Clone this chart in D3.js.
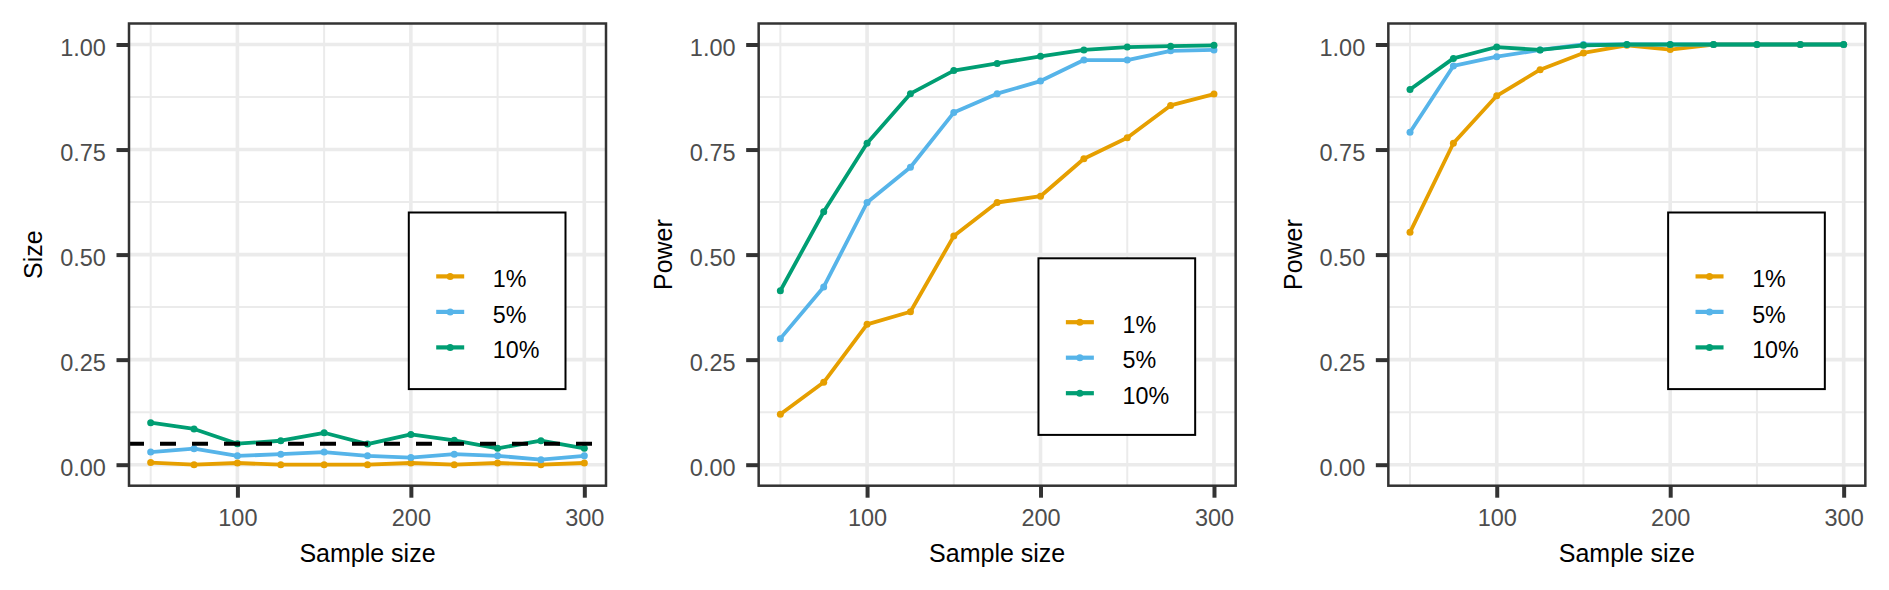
<!DOCTYPE html>
<html>
<head>
<meta charset="utf-8">
<script src="https://cdn.jsdelivr.net/npm/d3@7"></script>
<style>
  html, body { margin: 0; padding: 0; background: #ffffff; }
  svg { display: block; }
  text { font-family: "Liberation Sans", Arial, Helvetica, sans-serif; }
</style>
</head>
<body>
<svg id="chart" width="1889" height="590"></svg>
<script>
// ---------------- data ----------------
const sampleSizes = [50, 75, 100, 125, 150, 175, 200, 225, 250, 275, 300];
const levels = ["1%", "5%", "10%"];
const levelColors = ["#E69F00", "#56B4E9", "#009E73"];
const xTicks = [100, 200, 300];
const xMinorTicks = [50, 150, 250];
const yTicks = [0, 0.25, 0.5, 0.75, 1];
const yMinorTicks = [0.125, 0.375, 0.625, 0.875];
const nominalSize = 0.05;
const xTitle = "Sample size";
const yTitles = ["Size", "Power", "Power"];

// Panel 1: empirical size
const size1 = [0.005, 0.000, 0.004, 0.000, 0.000, 0.000, 0.004, 0.000, 0.004, 0.000, 0.004];
const size5 = [0.030, 0.038, 0.021, 0.025, 0.030, 0.021, 0.017, 0.025, 0.021, 0.012, 0.021];
const size10 = [0.100, 0.085, 0.050, 0.057, 0.076, 0.049, 0.072, 0.058, 0.039, 0.057, 0.039];

// Panel 2: power
const powerA1 = [0.120, 0.196, 0.334, 0.364, 0.544, 0.624, 0.639, 0.728, 0.778, 0.855, 0.882];
const powerA5 = [0.300, 0.423, 0.624, 0.708, 0.838, 0.883, 0.913, 0.963, 0.963, 0.985, 0.987];
const powerA10 = [0.414, 0.602, 0.765, 0.883, 0.938, 0.955, 0.972, 0.987, 0.994, 0.996, 0.998];

// Panel 3: power
const powerB1 = [0.553, 0.765, 0.878, 0.940, 0.980, 0.998, 0.988, 1.000, 1.000, 1.000, 1.000];
const powerB5 = [0.791, 0.949, 0.971, 0.987, 1.000, 1.000, 1.000, 1.000, 1.000, 1.000, 1.000];
const powerB10 = [0.893, 0.967, 0.994, 0.987, 0.998, 1.000, 1.000, 1.000, 1.000, 1.000, 1.000];

const panelSeries = [
  [size1, size5, size10],
  [powerA1, powerA5, powerA10],
  [powerB1, powerB5, powerB10]
];

// ---------------- layout ----------------
const svg = d3.select("#chart");
const slotW = 1889 / 3;
const plotL = 129, plotR = 606, plotT = 23.5, plotB = 485.7;
const legendTops = [212.5, 258.3, 212.5];
const tickFont = 23.5, titleFont = 25, legendFont = 23.3;
const gridCol = "#EBEBEB", borderCol = "#333333", tickTextCol = "#4D4D4D";
const lineW = 3.8, ptR = 3.5;

panelSeries.forEach((series, pi) => {
  const ox = pi * slotW;
  const g = svg.append("g").attr("transform", `translate(${ox},0)`);

  const x = d3.scaleLinear().domain([37.5, 312.5]).range([plotL, plotR]);
  const y = d3.scaleLinear().domain([-0.05, 1.05]).range([plotB, plotT]);

  const clipId = "clip" + pi;
  g.append("clipPath").attr("id", clipId)
    .append("rect").attr("x", plotL).attr("y", plotT)
    .attr("width", plotR - plotL).attr("height", plotB - plotT);

  // minor grid
  g.selectAll(".ymin").data(yMinorTicks).join("line")
    .attr("x1", plotL).attr("x2", plotR)
    .attr("y1", d => y(d)).attr("y2", d => y(d))
    .attr("stroke", gridCol).attr("stroke-width", 2);
  g.selectAll(".xmin").data(xMinorTicks).join("line")
    .attr("y1", plotT).attr("y2", plotB)
    .attr("x1", d => x(d)).attr("x2", d => x(d))
    .attr("stroke", gridCol).attr("stroke-width", 2);
  // major grid
  g.selectAll(".ymaj").data(yTicks).join("line")
    .attr("x1", plotL).attr("x2", plotR)
    .attr("y1", d => y(d)).attr("y2", d => y(d))
    .attr("stroke", gridCol).attr("stroke-width", 3.6);
  g.selectAll(".xmaj").data(xTicks).join("line")
    .attr("y1", plotT).attr("y2", plotB)
    .attr("x1", d => x(d)).attr("x2", d => x(d))
    .attr("stroke", gridCol).attr("stroke-width", 3.6);

  // series
  const plotG = g.append("g").attr("clip-path", `url(#${clipId})`);
  const lineGen = d3.line().x((d, i) => x(sampleSizes[i])).y(d => y(d));
  series.forEach((vals, si) => {
    plotG.append("path").datum(vals)
      .attr("d", lineGen).attr("fill", "none")
      .attr("stroke", levelColors[si]).attr("stroke-width", lineW)
      .attr("stroke-linejoin", "round");
    plotG.selectAll(".pt" + si).data(vals).join("circle")
      .attr("cx", (d, i) => x(sampleSizes[i])).attr("cy", d => y(d))
      .attr("r", ptR).attr("fill", levelColors[si]);
  });

  // dashed nominal size line on size panel
  if (pi === 0) {
    plotG.append("line")
      .attr("x1", plotL - 1).attr("x2", plotR)
      .attr("y1", y(nominalSize)).attr("y2", y(nominalSize))
      .attr("stroke", "#000000").attr("stroke-width", 4)
      .attr("stroke-dasharray", "16,16");
  }

  // border
  g.append("rect").attr("x", plotL).attr("y", plotT)
    .attr("width", plotR - plotL).attr("height", plotB - plotT)
    .attr("fill", "none").attr("stroke", borderCol).attr("stroke-width", 2.5);

  // axes
  const yAxis = d3.axisLeft(y).tickValues(yTicks).tickFormat(d3.format(".2f"))
    .tickSize(12.5).tickPadding(10.6);
  const ya = g.append("g").attr("transform", `translate(${plotL},0)`).call(yAxis);
  ya.select(".domain").remove();
  ya.selectAll("line").attr("stroke", borderCol).attr("stroke-width", 4);
  ya.selectAll("text").attr("fill", tickTextCol).attr("font-size", tickFont)
    .attr("dy", "0.47em")
    .style("font-family", '"Liberation Sans", Arial, sans-serif');

  const xAxis = d3.axisBottom(x).tickValues(xTicks).tickFormat(d3.format("d"))
    .tickSize(12).tickPadding(11.6);
  const xa = g.append("g").attr("transform", `translate(0,${plotB})`).call(xAxis);
  xa.select(".domain").remove();
  xa.selectAll("line").attr("stroke", borderCol).attr("stroke-width", 4);
  xa.selectAll("text").attr("fill", tickTextCol).attr("font-size", tickFont)
    .style("font-family", '"Liberation Sans", Arial, sans-serif');

  // axis titles
  g.append("text").attr("x", (plotL + plotR) / 2).attr("y", 562.3)
    .attr("text-anchor", "middle").attr("font-size", titleFont).attr("fill", "#000")
    .text(xTitle);
  g.append("text")
    .attr("transform", `translate(42.2,${(plotT + plotB) / 2}) rotate(-90)`)
    .attr("text-anchor", "middle").attr("font-size", titleFont).attr("fill", "#000")
    .text(yTitles[pi]);

  // legend
  const lx = plotL + 279.8, ly = legendTops[pi];
  const lg = g.append("g").attr("transform", `translate(${lx},${ly})`);
  lg.append("rect").attr("x", 0).attr("y", 0).attr("width", 156.7).attr("height", 176.6)
    .attr("fill", "#fff").attr("stroke", "#000").attr("stroke-width", 2);
  levels.forEach((lab, li) => {
    const ry = 63.9 + li * 35.5;
    lg.append("line").attr("x1", 27.4).attr("x2", 55.4).attr("y1", ry).attr("y2", ry)
      .attr("stroke", levelColors[li]).attr("stroke-width", lineW + 0.4);
    lg.append("circle").attr("cx", 41.4).attr("cy", ry).attr("r", ptR)
      .attr("fill", levelColors[li]);
    lg.append("text").attr("x", 84).attr("y", ry + 10.8)
      .attr("font-size", legendFont).attr("fill", "#000").text(lab);
  });
});
</script>
</body>
</html>
